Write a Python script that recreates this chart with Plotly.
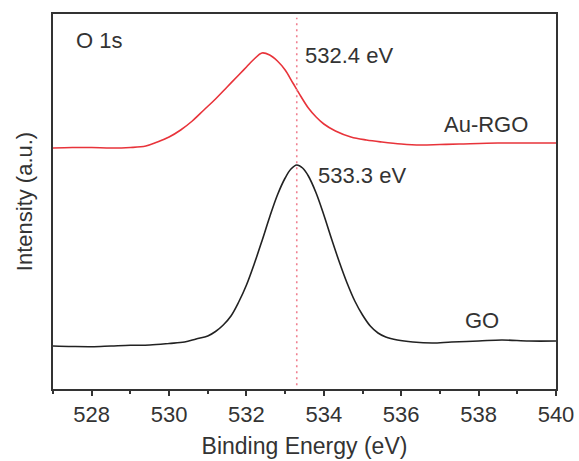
import plotly.graph_objects as go

# Binding energy (eV) and intensity (a.u., arbitrary offset)
au_rgo_energy = [527.0, 527.5, 528.0, 528.5, 529.0, 529.4, 529.7, 530.0, 530.3, 530.6,
                 530.9, 531.2, 531.5, 531.8, 532.0, 532.2, 532.4, 532.6, 532.8, 533.0,
                 533.2, 533.4, 533.6, 533.8, 534.0, 534.3, 534.7, 535.1, 535.5, 536.0,
                 536.5, 537.0, 537.5, 538.5, 539.3, 540.0]
au_rgo_intensity = [241, 241.5, 241.5, 241, 241.5, 243, 247, 252, 259, 268,
                    279, 290, 302, 314, 322, 330, 336, 334, 328, 319,
                    306, 293, 281, 272, 265, 258, 252, 249, 247, 245,
                    244, 244.5, 245, 246, 246, 246]

go_energy = [527.0, 527.5, 528.0, 528.5, 529.0, 529.5, 530.0, 530.4, 530.7, 531.0,
             531.2, 531.4, 531.6, 531.8, 532.0, 532.2, 532.4, 532.6, 532.8, 533.0,
             533.15, 533.3, 533.45, 533.6, 533.8, 534.0, 534.2, 534.4, 534.6, 534.8,
             535.0, 535.2, 535.4, 535.6, 535.9, 536.3, 536.8, 537.3, 538.0, 538.6,
             539.3, 540.0]
go_intensity = [43, 42.5, 42.3, 43, 43.7, 44, 45.5, 47, 50, 53,
                57.5, 64, 73, 87, 104, 125, 148, 172, 194, 211,
                220, 224, 221, 213, 196, 174, 150, 127, 106, 88,
                74, 63, 56, 52, 49, 47, 46, 47, 48, 49,
                48, 48]

x_ticks = [528, 530, 532, 534, 536, 538, 540]
ref_line_energy = 533.3

FONT = "Liberation Sans, Arial, sans-serif"
AX = "#333333"
TXT = "#333333"

fig = go.Figure()
fig.add_trace(go.Scatter(x=au_rgo_energy, y=au_rgo_intensity, mode="lines",
                         line=dict(color="#e8333a", width=1.6, shape="spline", smoothing=1.0),
                         showlegend=False, hoverinfo="skip"))
fig.add_trace(go.Scatter(x=go_energy, y=go_intensity, mode="lines",
                         line=dict(color="#222222", width=1.6, shape="spline", smoothing=1.0),
                         showlegend=False, hoverinfo="skip"))

fig.add_shape(type="line", xref="x", yref="paper", x0=ref_line_energy, x1=ref_line_energy,
              y0=0.01, y1=0.99, line=dict(color="#f08090", width=1.6, dash="2px,4px"))

ann = dict(showarrow=False, font=dict(family=FONT, size=22, color=TXT),
           xref="x", yref="y")
fig.add_annotation(text="O 1s", x=528.2, y=349, **ann)
fig.add_annotation(text="532.4 eV", x=533.3, y=334, xanchor="left", xshift=6, **ann)
fig.add_annotation(text="533.3 eV", x=533.3, y=214, xanchor="left", xshift=19, **ann)
fig.add_annotation(text="Au-RGO", x=538.18, y=265, **ann)
fig.add_annotation(text="GO", x=538.1, y=69, **ann)

fig.update_layout(
    width=579, height=461,
    margin=dict(l=53, r=23, t=14, b=72),
    paper_bgcolor="white", plot_bgcolor="white",
    font=dict(family=FONT, color=TXT),
    xaxis=dict(range=[527, 540], tickvals=x_ticks, ticks="outside", ticklen=5,
               tickwidth=1.5, tickcolor=AX, automargin=False,
               minor=dict(dtick=1, tick0=527, ticks="outside", ticklen=3, tickwidth=1.5, tickcolor=AX),
               showline=True, linecolor=AX, linewidth=1.5, mirror=True,
               showgrid=False, zeroline=False,
               tickfont=dict(family=FONT, size=22, color=TXT),
               title=dict(text="Binding Energy (eV)", font=dict(family=FONT, size=23, color=TXT),
                          standoff=12)),
    yaxis=dict(range=[0, 375], showticklabels=False, ticks="", automargin=False,
               showline=True, linecolor=AX, linewidth=1.5, mirror=True,
               showgrid=False, zeroline=False,
               title=dict(text="Intensity (a.u.)", font=dict(family=FONT, size=22, color=TXT),
                          standoff=13)),
)

fig.write_html("out.html", config={"displayModeBar": False},
               post_script="document.body.style.margin='0';document.body.style.overflow='hidden';")
